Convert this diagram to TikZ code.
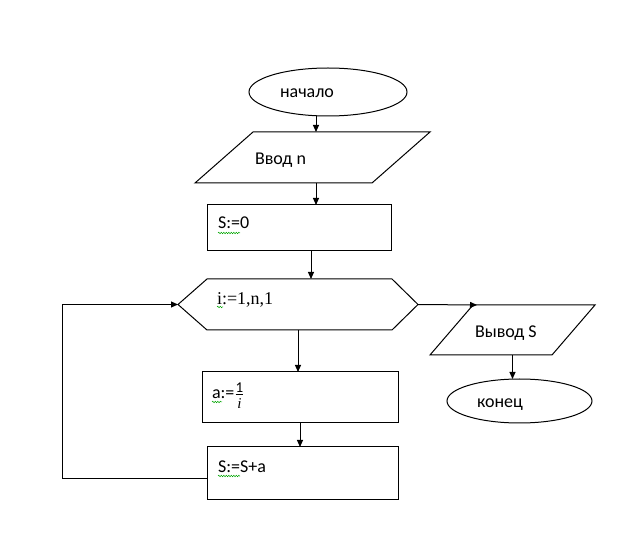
\documentclass[tikz,border=0pt]{standalone}
\usepackage{fontspec}
\setmainfont{Carlito}
\newfontfamily\timesfont{Liberation Serif}
\usetikzlibrary{shapes.geometric,arrows.meta,decorations.pathmorphing}
\newcommand{\fracsz}{\fontsize{15}{16}\selectfont}
\begin{document}
\begin{tikzpicture}[x=1pt,y=-1pt,line width=1pt,
    every node/.style={inner sep=0pt,outer sep=0pt},
    term/.style={ellipse,draw},
    proc/.style={rectangle,draw},
    frame/.style={rectangle},
    txt/.style={anchor=base west,font=\fontsize{18}{20}\selectfont},
    arr/.style={-{Triangle[length=7pt,width=6pt]}},
    wavy/.style={green!65!black,line width=0.5pt,decorate,
      decoration={snake,amplitude=0.7pt,segment length=2.5pt}}]

    \useasboundingbox (0,0) rectangle (619,545);

    % blocks
    \node[term,minimum width=158,minimum height=48] (start) at (328,92) {};
    \node[frame,minimum width=235,minimum height=51] (in) at (312.5,157.5) {};
    \draw (in.south west) -- ([xshift=58]in.north west) -- (in.north east)
        -- ([xshift=-58]in.south east) -- cycle;
    \node[proc,minimum width=184,minimum height=46] (s0) at (299,228) {};
    \node[frame,minimum width=240,minimum height=51] (loop) at (298,304.5) {};
    \draw (loop.west) -- ([xshift=29]loop.north west) -- ([xshift=-26]loop.north east)
        -- (loop.east) -- ([xshift=-26]loop.south east) -- ([xshift=29]loop.south west) -- cycle;
    \node[proc,minimum width=196,minimum height=51] (a) at (300,397.5) {};
    \node[proc,minimum width=191,minimum height=52] (sa) at (302.5,473) {};
    \node[frame,minimum width=165,minimum height=50] (out) at (512.5,330) {};
    \draw (out.south west) -- ([xshift=43]out.north west) -- (out.north east)
        -- ([xshift=-43]out.south east) -- cycle;
    \node[term,minimum width=145,minimum height=44] (end) at (519.5,401) {};

    % texts
    \node[txt] (startL) at (280,98) {начало};
    \node[txt] (inL) at (255,165) {Ввод n};
    \node[txt] (s0L) at (218,229) {S:=0};
    \node[txt,font=\fontsize{18}{20}\timesfont] (loopL) at (217,305) {i:=1,n,1};
    \node[txt] (aL) at (212,399) {a:=$\frac{\mbox{\fracsz 1}}{\mbox{\fracsz\timesfont\itshape\raisebox{-3.5pt}{i}}}$};
    \node[txt] (saL) at (218,472) {S:=S+a};
    \node[txt] (outL) at (475,338) {Вывод S};
    \node[txt] (endL) at (477,408) {конец};

    % spell marks
    \draw[wavy] ([yshift=-4]s0L.base west) -- ++(22,0);
    \draw[wavy] ([yshift=-2]loopL.base west) -- ++(6,0);
    \draw[wavy] ([yshift=-3]aL.base west) -- ++(10,0);
    \draw[wavy] ([yshift=-4]saL.base west) -- ++(22,0);

    % arrows
    \draw[arr] ([xshift=3.5]in.north |- start.south) -- ([xshift=3.5]in.north);
    \draw[arr] ([xshift=3.5]in.south) -- ([xshift=3.5]in.south |- s0.north);
    \draw[arr] ([xshift=12]s0.south) -- ([xshift=12]s0.south |- loop.north);
    \draw[arr] (loop.south) -- (loop.south |- a.north);
    \draw[arr] (a.south) -- (a.south |- sa.north);
    \draw[arr] ([yshift=-5]sa.west) -- ++(-145,0) |- (loop.west);
    \draw[arr] (loop.east) -- ([xshift=47]out.north west);
    \draw[arr] (out.south) -- (out.south |- end.north);

\end{tikzpicture}
\end{document}
